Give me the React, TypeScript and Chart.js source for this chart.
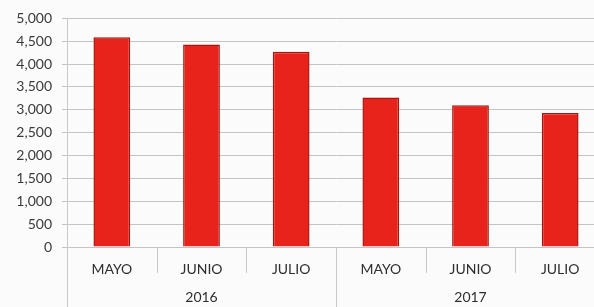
import React, { useEffect, useRef } from "react";
import { Chart, registerables } from "chart.js";

Chart.register(...registerables);

const categories = ["MAYO", "JUNIO", "JULIO", "MAYO", "JUNIO", "JULIO"];
const years = ["2016", "2017"];
const values = [4590, 4430, 4270, 3270, 3100, 2930];
const yMax = 5000;
const yStep = 500;

const separators = {
  id: "separators",
  afterDraw(chart: any) {
    const { ctx, chartArea, height } = chart;
    const n = categories.length;
    const w = (chartArea.right - chartArea.left) / n;
    ctx.save();
    ctx.strokeStyle = "#c9c9c9";
    ctx.lineWidth = 1;
    for (let i = 0; i <= n; i++) {
      const x = Math.round(chartArea.left + i * w) + 0.5;
      const y1 = i % 3 === 0 ? height : chartArea.bottom + 26;
      ctx.beginPath();
      ctx.moveTo(x, chartArea.bottom);
      ctx.lineTo(x, y1);
      ctx.stroke();
    }
    ctx.restore();
  },
};

export default function App() {
  const ref = useRef<HTMLCanvasElement | null>(null);
  useEffect(() => {
    if (!ref.current) return;
    const font = { family: "Lato, 'Liberation Sans', sans-serif", size: 14 };
    const chart = new Chart(ref.current, {
      type: "bar",
      data: {
        labels: categories,
        datasets: [
          {
            data: values,
            backgroundColor: "#e8231b",
            borderColor: "#a8170f",
            borderWidth: 1.5,
            barPercentage: 0.82,
            categoryPercentage: 0.5,
            xAxisID: "x",
          },
        ],
      },
      options: {
        animation: false,
        responsive: false,
        maintainAspectRatio: false,
        layout: { padding: { top: 11, right: 0, left: 0, bottom: 0 } },
        plugins: { legend: { display: false }, tooltip: { enabled: false } },
        scales: {
          x: {
            type: "category",
            position: "bottom",
            grid: { display: false },
            border: { display: false },
            ticks: { color: "#2e2e2e", font: { ...font, size: 14 }, padding: 6 },
            afterFit: (s: any) => { s.height = 32; },
          },
          x2: {
            type: "category",
            position: "bottom",
            labels: years,
            offset: true,
            grid: { display: false },
            border: { display: false },
            ticks: { color: "#2e2e2e", font: { ...font, size: 14 }, padding: 2 },
            afterFit: (s: any) => { s.height = 28; },
          },
          y: {
            min: 0,
            max: yMax,
            ticks: {
              stepSize: yStep,
              color: "#3a3a3a",
              font: { ...font, size: 14 },
              padding: 10,
              callback: (v: any) => Number(v).toLocaleString("en-US"),
            },
            grid: { color: "#c4c4c4", tickLength: 5, lineWidth: 1 },
            border: { color: "#c9c9c9" },
            afterFit: (s: any) => { s.width = 67; },
          },
        },
      },
      plugins: [separators],
    } as any);
    return () => chart.destroy();
  }, []);
  return (
    <div style={{ position: "absolute", left: 0, top: 0, width: 594, height: 307, overflow: "hidden", background: "#fbfbfb" }}>
      <canvas ref={ref} width={605} height={307} style={{ display: "block", width: 605, height: 307 }} />
    </div>
  );
}
